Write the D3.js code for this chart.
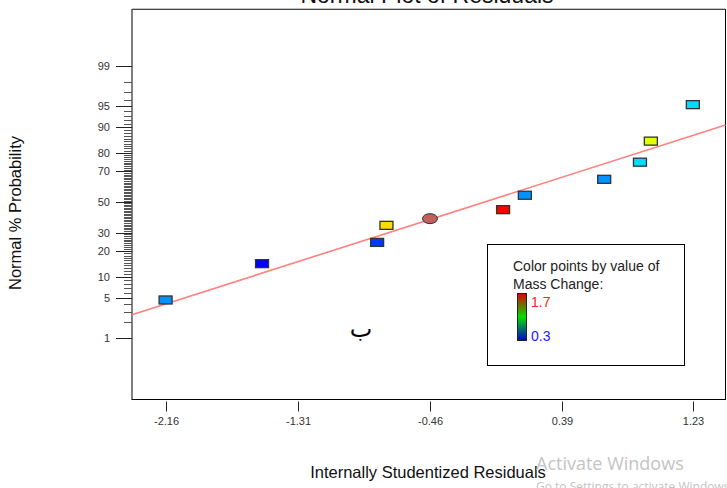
<!DOCTYPE html>
<html>
<head>
<meta charset="utf-8">
<script src="https://cdn.jsdelivr.net/npm/d3@7"></script>
<style>
  body { margin: 0; background: #fff; }
  svg { display: block; font-family: "Liberation Sans", Arial, sans-serif; }
</style>
</head>
<body>
<div id="chart"></div>
<script>
// values
var residuals = [-2.16, -1.54, -0.80, -0.74, -0.46, 0.01, 0.15, 0.66, 0.89, 0.96, 1.23];
var probabilities = [4.7, 14.6, 24.5, 34.5, 38.8, 44.8, 54.6, 65.1, 75.2, 85.1, 95.2];
var massChange = [0.50, 0.30, 0.38, 1.40, 1.00, 1.70, 0.50, 0.50, 0.60, 1.31, 0.60];
var highlightIndex = 4;

var xTicks = [-2.16, -1.31, -0.46, 0.39, 1.23];
var yMajor = [1, 5, 10, 20, 30, 50, 70, 80, 90, 95, 99];
var yMinor = d3.range(1, 100);

var lineMean = -0.11, lineSd = 1.176;
var massMin = 0.3, massMax = 1.7;

var width = 727, height = 488;
var plot = {left: 132, right: 725.5, top: 9.5, bottom: 399.5};

// inverse normal cdf (Acklam)
function probit(p) {
	var a = [-39.69683028665376, 220.9460984245205, -275.9285104469687, 138.3577518672690, -30.66479806614716, 2.506628277459239];
	var b = [-54.47609879822406, 161.5858368580409, -155.6989798598866, 66.80131188771972, -13.28068155288572];
	var c = [-0.007784894002430293, -0.3223964580411365, -2.400758277161838, -2.549732539343734, 4.374664141464968, 2.938163982698783];
	var d = [0.007784695709041462, 0.3224671290700398, 2.445134137142996, 3.754408661907416];
	var q, r;
	if (p < 0.02425) {
		q = Math.sqrt(-2 * Math.log(p));
		return (((((c[0]*q+c[1])*q+c[2])*q+c[3])*q+c[4])*q+c[5]) / ((((d[0]*q+d[1])*q+d[2])*q+d[3])*q+1);
	}
	if (p > 1 - 0.02425) {
		q = Math.sqrt(-2 * Math.log(1 - p));
		return -(((((c[0]*q+c[1])*q+c[2])*q+c[3])*q+c[4])*q+c[5]) / ((((d[0]*q+d[1])*q+d[2])*q+d[3])*q+1);
	}
	q = p - 0.5;
	r = q * q;
	return (((((a[0]*r+a[1])*r+a[2])*r+a[3])*r+a[4])*r+a[5])*q / (((((b[0]*r+b[1])*r+b[2])*r+b[3])*r+b[4])*r+1);
}

var x = d3.scaleLinear().domain([-2.376, 1.44]).range([plot.left, plot.right]);
var z = d3.scaleLinear().domain([-3.376, 3.291]).range([plot.bottom, plot.top]);
var yp = function(p) { return z(probit(p / 100)); };

var color = d3.scaleLinear()
	.domain([0.3, 0.65, 1.0, 1.35, 1.7])
	.range(['#0000ff', '#00ffff', '#00ff00', '#ffff00', '#ff0000']);

var svg = d3.select('#chart').append('svg')
	.attr('width', width)
	.attr('height', height);

// title (cut at top)
svg.append('text')
	.attr('x', 427).attr('y', 3)
	.attr('text-anchor', 'middle')
	.attr('font-size', 23)
	.attr('fill', '#111')
	.text('Normal Plot of Residuals');

// plot frame
svg.append('rect')
	.attr('x', plot.left).attr('y', plot.top)
	.attr('width', plot.right - plot.left)
	.attr('height', plot.bottom - plot.top)
	.attr('fill', '#fff')
	.attr('stroke', '#000');
svg.append('line')
	.attr('x1', plot.left).attr('x2', plot.right)
	.attr('y1', plot.top - 0.5).attr('y2', plot.top - 0.5)
	.attr('stroke', '#888');

// y axis: minor ticks
svg.append('g').selectAll('line')
	.data(yMinor.filter(function(v) { return yMajor.indexOf(v) < 0; }))
	.enter().append('line')
	.attr('x1', plot.left - 8).attr('x2', plot.left)
	.attr('y1', function(d) { return Math.round(yp(d)) + 0.5; })
	.attr('y2', function(d) { return Math.round(yp(d)) + 0.5; })
	.attr('stroke', '#555');

// y axis: major ticks
var ym = svg.append('g').selectAll('g')
	.data(yMajor)
	.enter().append('g')
	.attr('transform', function(d) { return 'translate(0,' + (Math.round(yp(d)) + 0.5) + ')'; });
ym.append('line')
	.attr('x1', plot.left - 16).attr('x2', plot.left)
	.attr('stroke', '#222');
ym.append('text')
	.attr('x', plot.left - 22).attr('dy', '0.35em')
	.attr('text-anchor', 'end')
	.attr('font-size', 11)
	.attr('fill', '#333')
	.text(function(d) { return d; });

// x axis
var xt = svg.append('g').selectAll('g')
	.data(xTicks)
	.enter().append('g')
	.attr('transform', function(d) { return 'translate(' + (Math.round(x(d)) + 0.5) + ',0)'; });
xt.append('line')
	.attr('y1', plot.bottom + 2).attr('y2', plot.bottom + 12)
	.attr('stroke', '#222');
xt.append('text')
	.attr('y', plot.bottom + 25)
	.attr('text-anchor', 'middle')
	.attr('font-size', 11)
	.attr('fill', '#333')
	.text(function(d) { return d.toFixed(2); });

// axis titles
svg.append('text')
	.attr('x', 428).attr('y', 478)
	.attr('text-anchor', 'middle')
	.attr('font-size', 16.5)
	.attr('fill', '#111')
	.text('Internally Studentized Residuals');
svg.append('text')
	.attr('transform', 'translate(21,213) rotate(-90)')
	.attr('text-anchor', 'middle')
	.attr('font-size', 16.5)
	.attr('fill', '#111')
	.text('Normal % Probability');

// fit line
var xd = x.domain();
svg.append('line')
	.attr('x1', x(xd[0])).attr('y1', z((xd[0] - lineMean) / lineSd))
	.attr('x2', x(xd[1])).attr('y2', z((xd[1] - lineMean) / lineSd))
	.attr('stroke', '#ff8080')
	.attr('stroke-width', 1.6);

// points
var pts = residuals.map(function(r, i) {
	return {r: r, p: probabilities[i], m: massChange[i], i: i};
});
var node = svg.append('g').selectAll('g')
	.data(pts)
	.enter().append('g')
	.attr('transform', function(d) { return 'translate(' + x(d.r) + ',' + yp(d.p) + ')'; });
node.filter(function(d) { return d.i !== highlightIndex; })
	.append('rect')
	.attr('x', -6.5).attr('y', -4).attr('width', 13).attr('height', 8)
	.attr('fill', function(d) { return color(d.m); })
	.attr('stroke', '#333')
	.attr('stroke-width', 1.3);
node.filter(function(d) { return d.i === highlightIndex; })
	.append('ellipse')
	.attr('rx', 7.5).attr('ry', 5)
	.attr('fill', '#c0605f')
	.attr('stroke', '#333')
	.attr('stroke-width', 1);

// arabic mark
svg.append('text')
	.attr('x', 361).attr('y', 337)
	.attr('text-anchor', 'middle')
	.attr('font-size', 24)
	.attr('font-family', 'DejaVu Sans')
	.attr('fill', '#000')
	.text('ب');

// legend
var lg = svg.append('g');
lg.append('rect')
	.attr('x', 487.5).attr('y', 244.5)
	.attr('width', 197).attr('height', 121)
	.attr('fill', '#fff').attr('stroke', '#000');
lg.append('text').attr('x', 513).attr('y', 271)
	.attr('font-size', 14).attr('fill', '#222')
	.text('Color points by value of');
lg.append('text').attr('x', 513).attr('y', 289)
	.attr('font-size', 14).attr('fill', '#222')
	.text('Mass Change:');
var grad = svg.append('defs').append('linearGradient')
	.attr('id', 'mc').attr('x1', 0).attr('y1', 0).attr('x2', 0).attr('y2', 1);
grad.append('stop').attr('offset', '0%').attr('stop-color', '#e00000');
grad.append('stop').attr('offset', '50%').attr('stop-color', '#00e000');
grad.append('stop').attr('offset', '100%').attr('stop-color', '#0000d0');
lg.append('rect')
	.attr('x', 517.5).attr('y', 293.5)
	.attr('width', 9).attr('height', 47)
	.attr('fill', 'url(#mc)').attr('stroke', '#222');
lg.append('text').attr('x', 531).attr('y', 307)
	.attr('font-size', 14).attr('fill', '#ff2020')
	.text(massMax.toFixed(1));
lg.append('text').attr('x', 531).attr('y', 341)
	.attr('font-size', 14).attr('fill', '#2020ff')
	.text(massMin.toFixed(1));

// windows watermark from the screenshot
svg.append('text').attr('x', 536).attr('y', 470)
	.attr('font-size', 18).attr('font-family', 'Open Sans')
	.attr('fill', '#c4c4c4')
	.text('Activate Windows');
svg.append('text').attr('x', 536).attr('y', 491)
	.attr('font-size', 12).attr('font-family', 'Open Sans')
	.attr('fill', '#c4c4c4')
	.text('Go to Settings to activate Windows.');
</script>
</body>
</html>
